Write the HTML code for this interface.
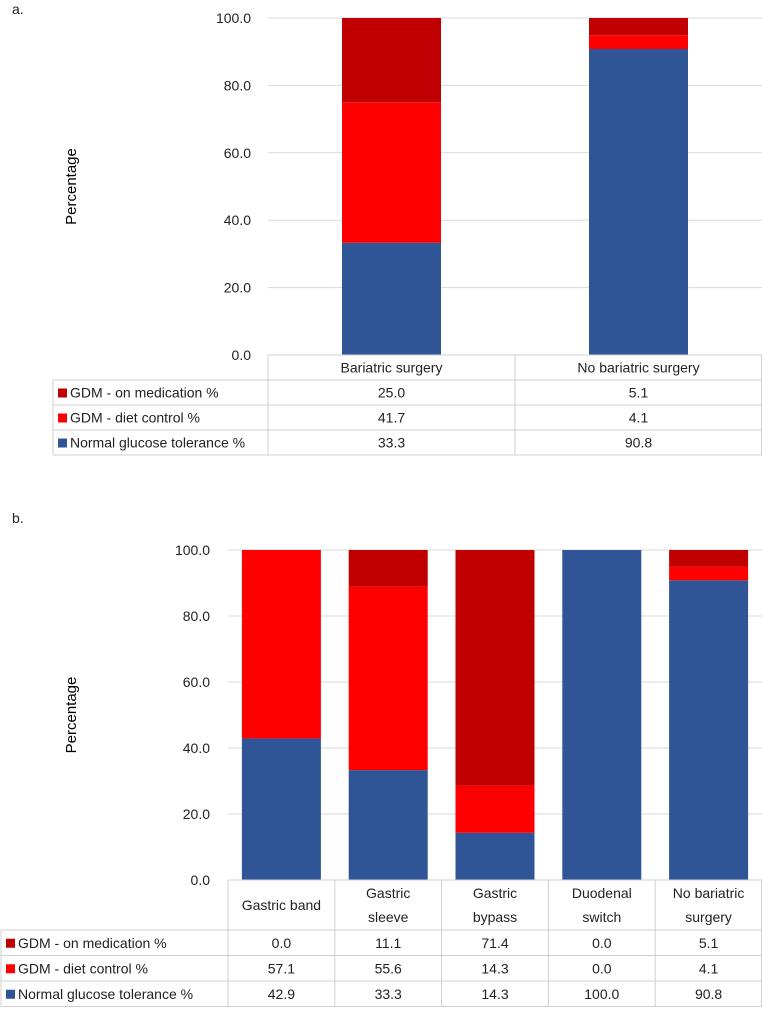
<!DOCTYPE html>
<html><head><meta charset="utf-8"><style>
body{margin:0;background:#fff;}
svg{display:block;font-family:"Liberation Sans",sans-serif;}
</style></head><body>
<svg id="svg" width="762" height="1011" xmlns="http://www.w3.org/2000/svg"></svg>
<script>
const seriesNames=["GDM - on medication %","GDM - diet control %","Normal glucose tolerance %"];
const seriesColors=["#C00000","#FF0000","#2F5597"];
const catsA=["Bariatric surgery","No bariatric surgery"];
const medA=[25.0,5.1];
const dietA=[41.7,4.1];
const normA=[33.3,90.8];
const catsB=[["Gastric band"],["Gastric","sleeve"],["Gastric","bypass"],["Duodenal","switch"],["No bariatric","surgery"]];
const medB=[0.0,11.1,71.4,0.0,5.1];
const dietB=[57.1,55.6,14.3,0.0,4.1];
const normB=[42.9,33.3,14.3,100.0,90.8];
const ticks=[0,20,40,60,80,100];
const svg=document.getElementById('svg');
const NS="http://www.w3.org/2000/svg";
function el(t,a,p){const e=document.createElementNS(NS,t);for(const k in a)e.setAttribute(k,a[k]);(p||svg).appendChild(e);return e;}
function txt(x,y,s,a,size,anchor){const e=el('text',{x:x,y:y,'font-size':size||14,'text-anchor':anchor||'middle',fill:'#222'});e.textContent=s;return e;}
function chart(o){
 const g=el('g',{});
 
 
 const y=v=>o.y0-(o.y0-o.y100)*v/100;
 const lab=txt(12,o.labY,o.label,{},14,'start');
 ticks.forEach(t=>{
  if(t>0){const l=el('line',{x1:o.tx0,x2:762,y1:y(t),y2:y(t),stroke:'#d9d9d9'},g);}
  const tt=txt(o.tickX,y(t)+5,t.toFixed(1),{},14,'end');
 });
 const yt=el('text',{x:0,y:0,'font-size':15,'text-anchor':'middle',fill:'#000',transform:`translate(${o.ytX},${(o.y0+o.y100)/2}) rotate(-90)`});
 yt.textContent='Percentage';
 const n=o.cats.length, cw=(762-o.tx0)/n;
 const series=[o.norm,o.diet,o.med], cols=[seriesColors[2],seriesColors[1],seriesColors[0]];
 for(let i=0;i<n;i++){
  let base=0;const cx=o.tx0+cw*i+cw/2;
  series.forEach((s,k)=>{
   const v=s[i];if(v<=0)return;
   const r=el('rect',{x:cx-o.bw/2,y:y(base+v),width:o.bw,height:y(base)-y(base+v),fill:cols[k]},g);
   
   base+=v;
  });
 }
 // table
 const tl=o.legX, rows=[o.y0,o.hdrB,o.hdrB+o.rh,o.hdrB+2*o.rh,o.hdrB+3*o.rh];
 const line=(x1,y1,x2,y2)=>{const l=el('line',{x1,y1,x2,y2,stroke:'#d0d0d0'},g);};
 line(o.tx0,rows[0],762,rows[0]);
 for(let r=1;r<5;r++)line(tl,rows[r],762,rows[r]);
 line(tl,rows[1],tl,rows[4]);
 for(let i=0;i<=n;i++)line(Math.min(o.tx0+cw*i,761.5),rows[0],Math.min(o.tx0+cw*i,761.5),rows[4]);
 for(let i=0;i<n;i++){
  const cx=o.tx0+cw*i+cw/2, c=o.cats[i], lines=Array.isArray(c)?c:[c];
  const mid=(rows[0]+rows[1])/2;
  lines.forEach((s,j)=>{const t=txt(cx,mid+5+(j-(lines.length-1)/2)*24,s,{},14);});
  [o.med,o.diet,o.norm].forEach((s,k)=>{const t=txt(cx,rows[k+1]+o.rh/2+5,s[i].toFixed(1),{},14);});
 }
 seriesNames.forEach((nm,k)=>{
  const cy=rows[k+1]+o.rh/2;
  const r=el('rect',{x:tl+5,y:cy-4,width:9,height:9,fill:seriesColors[k]},g);
  
  const t=txt(tl+17,cy+5,nm,{},14,'start');
 });
}
chart({name:'chart-a',label:'a.',labY:14,y0:355,y100:18,tx0:268,bw:99,tickX:251,ytX:76,legX:53,hdrB:380,rh:25,cats:catsA,med:medA,diet:dietA,norm:normA});
chart({name:'chart-b',label:'b.',labY:523,y0:880,y100:550,tx0:228,bw:79,tickX:210,ytX:76,legX:1,hdrB:930,rh:25.5,cats:catsB,med:medB,diet:dietB,norm:normB});
</script>
</body></html>
